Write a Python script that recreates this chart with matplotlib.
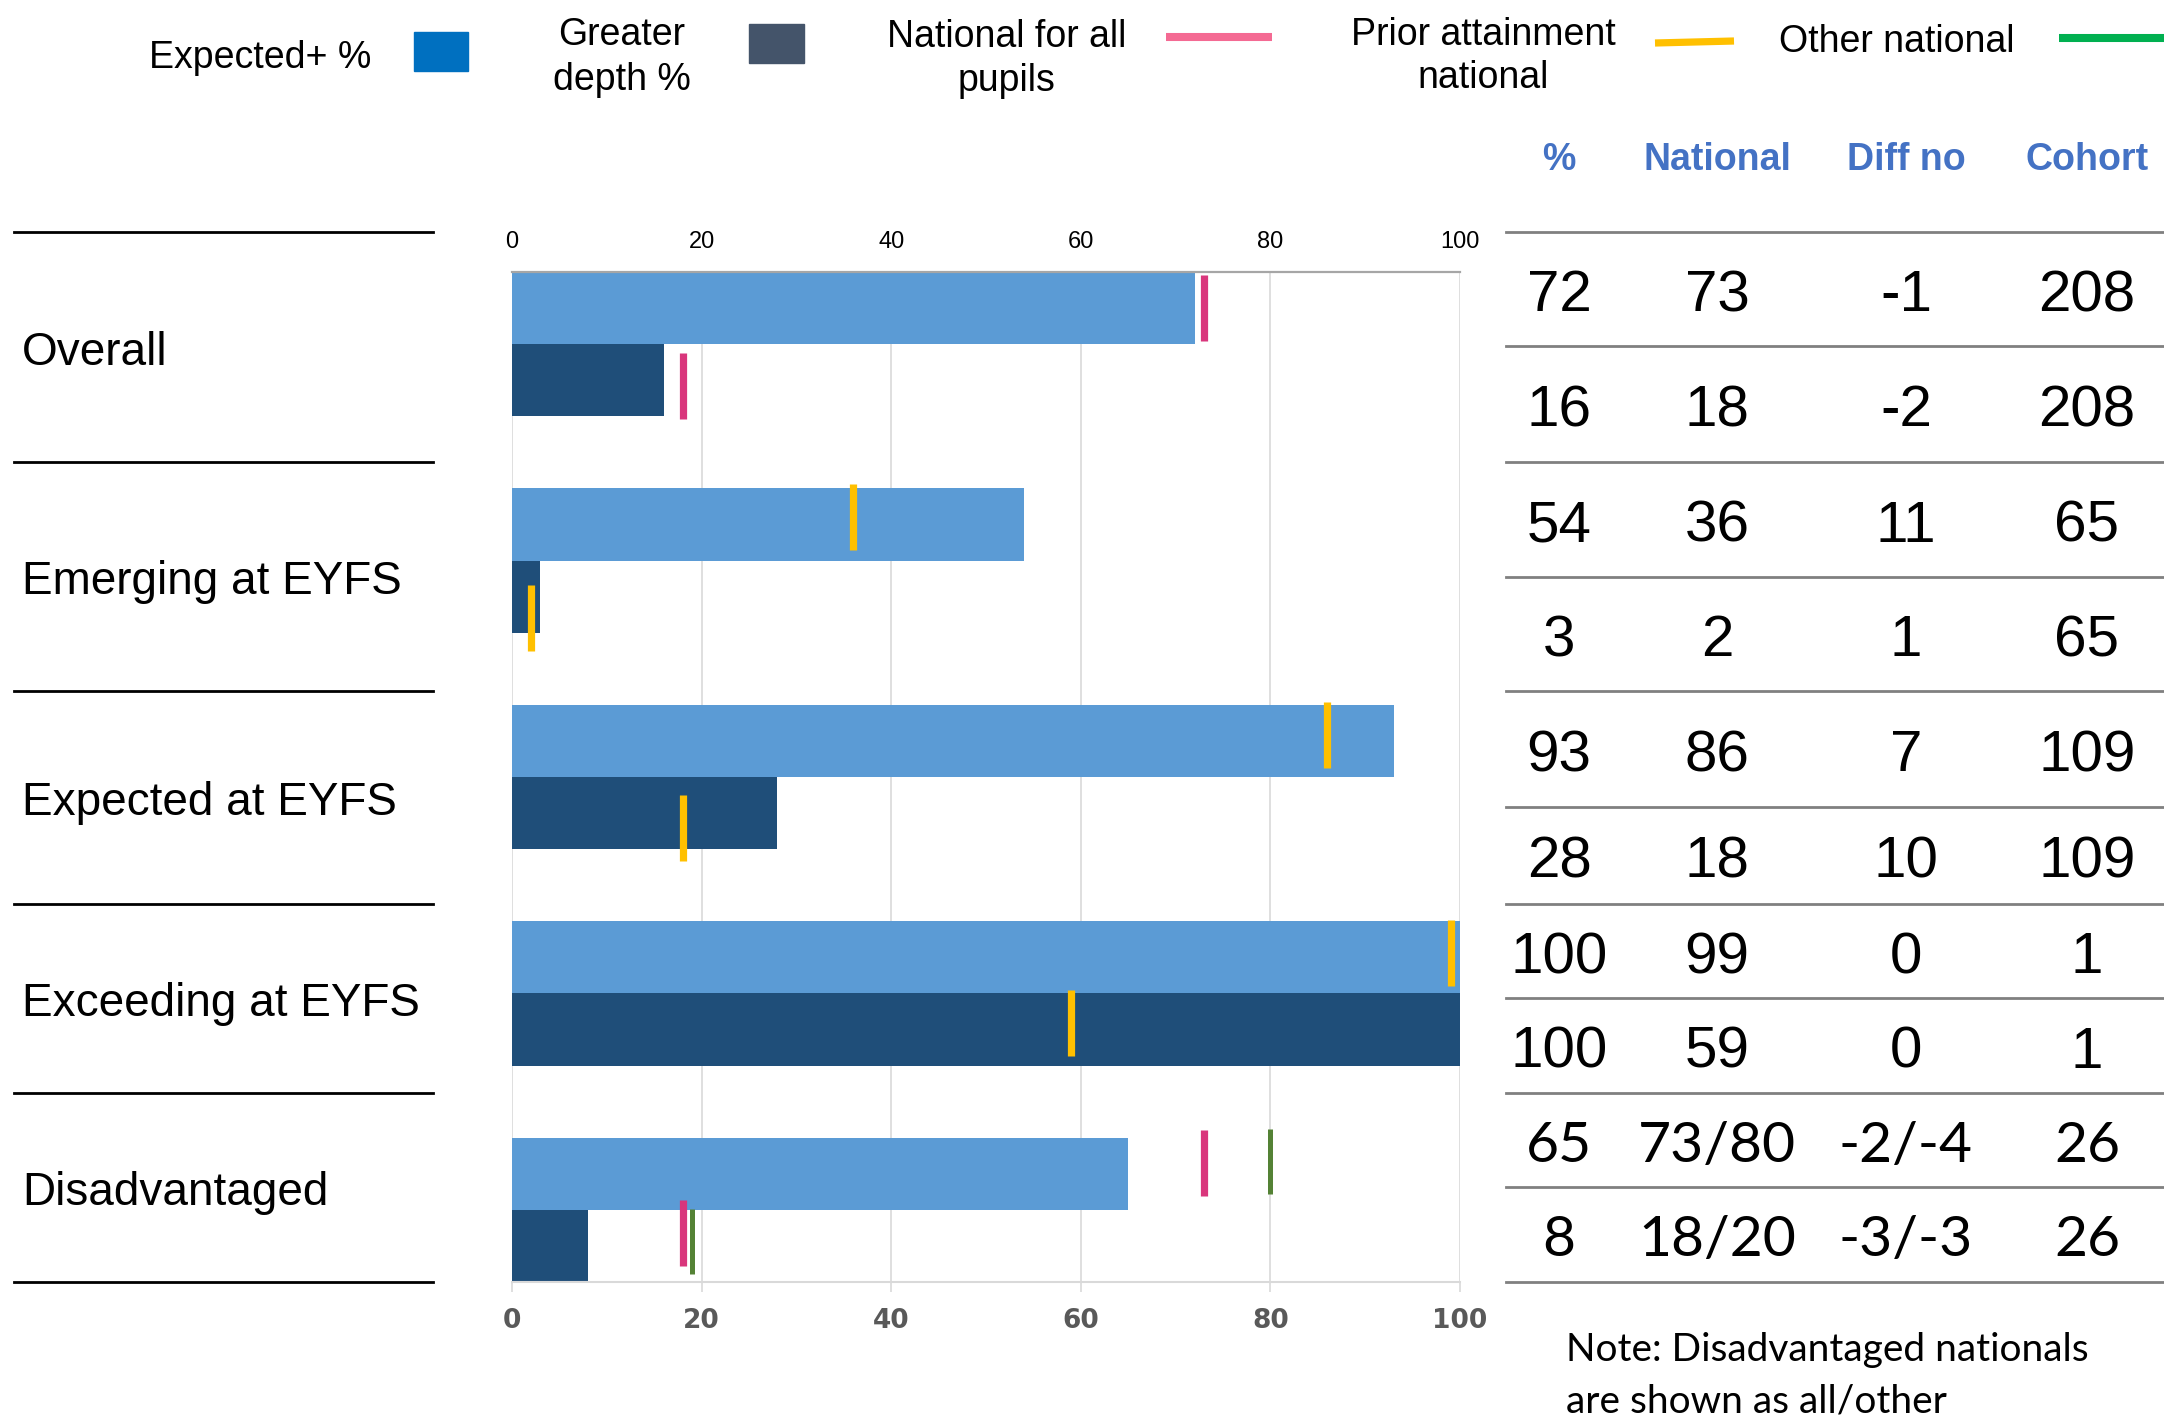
import matplotlib
matplotlib.use('Agg')
import matplotlib.pyplot as plt
from matplotlib.patches import Rectangle
from matplotlib.lines import Line2D

# ---------------- data ----------------
groups = ['Overall', 'Emerging at EYFS', 'Expected at EYFS', 'Exceeding at EYFS', 'Disadvantaged']
expected_pct = [72, 54, 93, 100, 65]
greater_pct = [16, 3, 28, 100, 8]

# markers: group index, row (0 = Expected+, 1 = Greater depth), value, small vertical shift
natall_group = [0, 0, 4, 4]
natall_row = [0, 1, 0, 1]
natall_val = [73, 18, 73, 18]
natall_shift = [0.0, 0.08, -0.15, -0.18]

prior_group = [1, 1, 2, 2, 3, 3]
prior_row = [0, 1, 0, 1, 0, 1]
prior_val = [36, 2, 86, 18, 99, 59]
prior_shift = [-0.10, 0.30, -0.08, 0.21, -0.06, -0.09]

other_group = [4, 4]
other_row = [0, 1]
other_val = [80, 19]
other_shift = [-0.17, -0.06]

x_ticks = [0, 20, 40, 60, 80, 100]

col_headers = ['%', 'National', 'Diff no', 'Cohort']
tbl_pct = ['72', '16', '54', '3', '93', '28', '100', '100', '65', '8']
tbl_nat = ['73', '18', '36', '2', '86', '18', '99', '59', '73/80', '18/20']
tbl_diff = ['-1', '-2', '11', '1', '7', '10', '0', '0', '-2/-4', '-3/-3']
tbl_cohort = ['208', '208', '65', '65', '109', '109', '1', '1', '26', '26']

legend_labels = [['Expected+ %'], ['Greater', 'depth %'], ['National for all', 'pupils'],
                 ['Prior attainment', 'national'], ['Other national']]
note_lines = ['Note: Disadvantaged nationals', 'are shown as all/other']

# ---------------- styling ----------------
W, H, DPI = 2164, 1426, 100
C_EXP = '#5B9BD5'
C_GD = '#1F4E79'
C_PINK = '#D9367C'
C_YEL = '#FFC000'
C_GRN = '#548235'
C_HEAD = '#4472C4'
FONT = 'Liberation Sans'
FONT_C = ['Lato', 'Liberation Sans']


def fx(x):
    return x / W


def fy(y):
    return 1 - y / H


fig = plt.figure(figsize=(W / DPI, H / DPI), dpi=DPI)
fig.patch.set_facecolor('white')

# ---------------- chart ----------------
ax_l, ax_r, ax_t, ax_b = 512, 1460, 272, 1282
ax = fig.add_axes([fx(ax_l), fy(ax_b), (ax_r - ax_l) / W, (ax_b - ax_t) / H])

n = len(groups)
y_exp = [3 * i + 0.5 for i in range(n)]
y_gd = [3 * i + 1.5 for i in range(n)]
ax.barh(y_exp, expected_pct, height=1.0, color=C_EXP, zorder=2)
ax.barh(y_gd, greater_pct, height=1.0, color=C_GD, zorder=2)


def marks(gs, rs, vs, ss, color, lw):
    for g, r, v, s in zip(gs, rs, vs, ss):
        yc = 3 * g + r + 0.5 + s
        ax.vlines(v, yc - 0.455, yc + 0.455, colors=color, lw=lw, zorder=4)


marks(natall_group, natall_row, natall_val, natall_shift, C_PINK, 5.2)
marks(prior_group, prior_row, prior_val, prior_shift, C_YEL, 5.2)
marks(other_group, other_row, other_val, other_shift, C_GRN, 3.6)

ax.set_xlim(0, 100)
ax.set_ylim(3 * n - 1, 0)
ax.set_yticks([])
ax.set_xticks(x_ticks)
ax.grid(axis='x', color='#D9D9D9', lw=1.2, zorder=0)
ax.set_axisbelow(True)
for s in ['left', 'right', 'top']:
    ax.spines[s].set_visible(False)
ax.spines['bottom'].set_color('#D9D9D9')
ax.spines['bottom'].set_linewidth(1.5)
ax.tick_params(axis='x', length=7, width=1.2, color='#D9D9D9', pad=12,
               labelsize=19, labelcolor='#595959')
for lab in ax.get_xticklabels():
    lab.set_fontfamily('DejaVu Sans')
    lab.set_fontweight('bold')

ax2 = ax.twiny()
ax2.set_xlim(0, 100)
ax2.set_xticks(x_ticks)
for s in ['left', 'right', 'bottom']:
    ax2.spines[s].set_visible(False)
ax2.spines['top'].set_color('#A6A6A6')
ax2.spines['top'].set_linewidth(1.6)
ax2.tick_params(axis='x', length=0, pad=14, labelsize=17, labelcolor='black')
for lab in ax2.get_xticklabels():
    lab.set_fontfamily(FONT)

# ---------------- left labels ----------------
sect_lines = [232, 462, 691, 904, 1093, 1282]
for y in sect_lines:
    fig.add_artist(Line2D([fx(14), fx(433)], [fy(y), fy(y)], color='black', lw=2.0,
                          transform=fig.transFigure))
lab_size = 33
lab_cap = 0.716 * lab_size * DPI / 72
for i, g in enumerate(groups):
    mid = (sect_lines[i] + sect_lines[i + 1]) / 2
    fig.text(fx(22), fy(mid + 1.5 + lab_cap / 2), g, fontsize=lab_size, family=FONT,
             ha='left', va='baseline', color='black')

# ---------------- table ----------------
tbl_lines = [232, 346, 462, 577, 691, 807, 904, 998, 1093, 1187, 1282]
for y in tbl_lines:
    fig.add_artist(Line2D([fx(1506), fx(W)], [fy(y), fy(y)], color='#808080', lw=2.0,
                          transform=fig.transFigure))
col_x = [1559, 1717, 1906, 2087]
for cx, h in zip(col_x, col_headers):
    fig.text(fx(cx), fy(170), h, fontsize=27, family=FONT, fontweight='bold',
             color=C_HEAD, ha='center', va='baseline')

num_size = 42
for r in range(len(tbl_pct)):
    mid = (tbl_lines[r] + tbl_lines[r + 1]) / 2
    fam = FONT_C if r >= 8 else FONT
    size = 41 if r >= 8 else num_size
    cap = 0.716 * size * DPI / 72
    base = mid + 1.5 + cap / 2
    for cx, col in zip(col_x, [tbl_pct, tbl_nat, tbl_diff, tbl_cohort]):
        fig.text(fx(cx), fy(base), col[r], fontsize=size, family=fam,
                 ha='center', va='baseline', color='black')

fig.text(fx(1566), fy(1361), note_lines[0], fontsize=28, family=FONT_C,
         ha='left', va='baseline', color='black')
fig.text(fx(1566), fy(1412), note_lines[1], fontsize=28, family=FONT_C,
         ha='left', va='baseline', color='black')

# ---------------- legend ----------------
leg_text_pos = [(260, [68]), (622, [45, 90]), (1007, [47, 91]), (1483, [45, 88]), (1897, [52])]
for (cx, bases), lines in zip(leg_text_pos, legend_labels):
    for b, t in zip(bases, lines):
        fig.text(fx(cx), fy(b), t, fontsize=27, family=FONT, ha='center', va='baseline',
                 color='black')

fig.add_artist(Rectangle((fx(414), fy(71)), (468 - 414) / W, (71 - 32) / H,
                         transform=fig.transFigure, color='#0070C0'))
fig.add_artist(Rectangle((fx(749), fy(63)), (804 - 749) / W, (63 - 24) / H,
                         transform=fig.transFigure, color='#44546A'))
fig.add_artist(Line2D([fx(1166), fx(1272)], [fy(37), fy(37)], color='#F46A93', lw=5.8,
                      transform=fig.transFigure, solid_capstyle='butt'))
fig.add_artist(Line2D([fx(1655), fx(1734)], [fy(43), fy(41)], color=C_YEL, lw=5.2,
                      transform=fig.transFigure, solid_capstyle='butt'))
fig.add_artist(Line2D([fx(2059), fx(W)], [fy(37.5), fy(37.5)], color='#00B050', lw=5.8,
                      transform=fig.transFigure, solid_capstyle='butt'))

fig.savefig('out.png', dpi=DPI, facecolor='white')
